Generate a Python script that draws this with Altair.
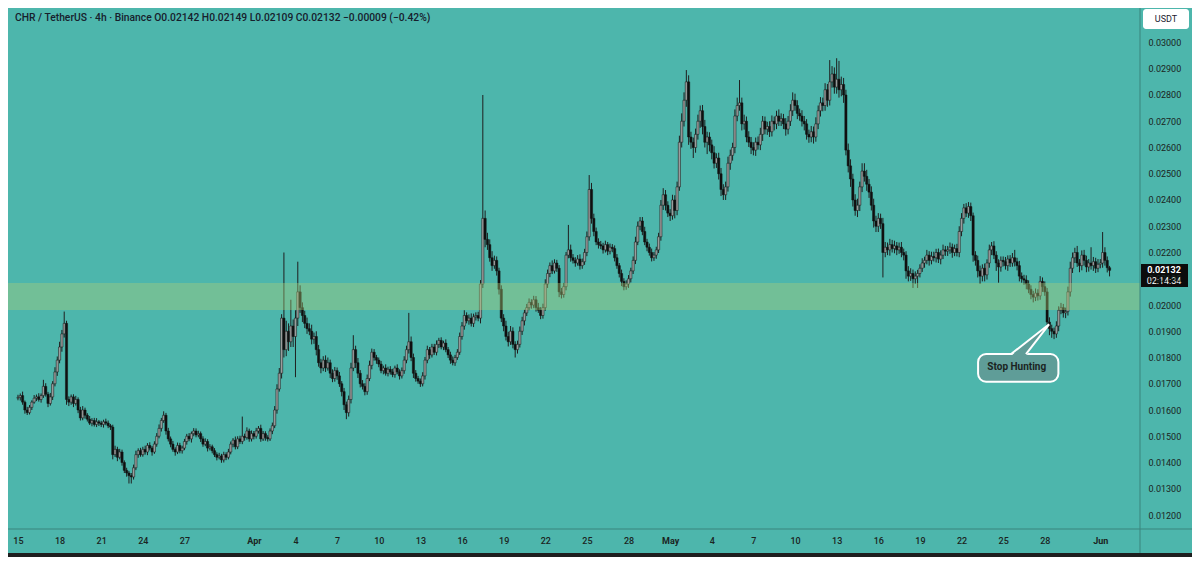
import altair as alt
import pandas as pd
from datetime import datetime, timedelta, timezone

# ---------------- data (prices in units of 0.00001 USDT, 4h candles from 2023-03-15 00:00 UTC) ----------------
first_open = 1645
closes = [
    1648, 1655, 1630, 1600, 1590, 1610,  # Mar 15
    1630, 1645, 1650, 1640, 1655, 1690,  # 16
    1660, 1625, 1650, 1700, 1745, 1790,  # 17
    1840, 1890, 1930, 1640, 1630, 1650,  # 18
    1625, 1640, 1600, 1570, 1600, 1580,  # 19
    1565, 1550, 1560, 1545, 1555, 1550,  # 20
    1545, 1555, 1550, 1540, 1535, 1430,  # 21
    1450, 1420, 1440, 1400, 1370, 1360,  # 22
    1350, 1345, 1380, 1430, 1445, 1430,  # 23
    1450, 1440, 1465, 1455, 1440, 1470,  # 24
    1500, 1530, 1560, 1580, 1520, 1490,  # 25
    1470, 1450, 1440, 1465, 1445, 1455,  # 26
    1480, 1500, 1490, 1510, 1520, 1505,  # 27
    1510, 1490, 1470, 1480, 1455, 1460,  # 28
    1445, 1430, 1420, 1425, 1410, 1430,  # 29
    1420, 1440, 1470, 1485, 1460, 1490,  # 30
    1480, 1500, 1495, 1520, 1490, 1510,  # 31
    1500, 1520, 1530, 1490, 1510, 1495,  # Apr 1
    1490, 1520, 1540, 1600, 1680, 1740,  # 2
    1950, 1830, 1900, 1860, 1920, 1880,  # 3
    1950, 2050, 1990, 1960, 1930, 1910,  # 4
    1900, 1870, 1880, 1830, 1780, 1760,  # 5
    1790, 1760, 1780, 1740, 1720, 1750,  # 6
    1730, 1700, 1670, 1620, 1590, 1640,  # 7
    1760, 1830, 1780, 1740, 1700, 1690,  # 8
    1670, 1720, 1770, 1820, 1800, 1790,  # 9
    1775, 1750, 1760, 1740, 1755, 1745,  # 10
    1735, 1760, 1745, 1730, 1750, 1790,  # 11
    1830, 1860, 1800, 1740, 1720, 1710,  # 12
    1700, 1730, 1790, 1830, 1810, 1840,  # 13
    1820, 1850, 1865, 1840, 1855, 1830,  # 14
    1810, 1790, 1780, 1800, 1820, 1880,  # 15
    1920, 1960, 1940, 1950, 1930, 1955,  # 16
    1960, 1950, 2080, 2330, 2250, 2230,  # 17
    2180, 2150, 2170, 2130, 2060, 1950,  # 18
    1920, 1880, 1860, 1900, 1850, 1830,  # 19
    1850, 1900, 1940, 1970, 1990, 2010,  # 20
    2000, 2020, 1990, 1980, 1960, 1990,  # 21
    2080, 2120, 2150, 2130, 2160, 2140,  # 22
    2050, 2040, 2070, 2190, 2210, 2180,  # 23
    2170, 2160, 2175, 2150, 2165, 2200,  # 24
    2260, 2440, 2330, 2280, 2240, 2230,  # 25
    2225, 2210, 2230, 2205, 2220, 2215,  # 26
    2180, 2150, 2120, 2090, 2070, 2080,  # 27
    2100, 2130, 2170, 2240, 2300, 2320,  # 28
    2280, 2240, 2220, 2200, 2180, 2190,  # 29
    2210, 2260, 2380, 2420, 2380, 2350,  # 30
    2340, 2400, 2360, 2450, 2620, 2700,  # May 1
    2780, 2850, 2640, 2620, 2600, 2650,  # 2
    2700, 2740, 2680, 2620, 2640, 2610,  # 3
    2580, 2540, 2560, 2500, 2440, 2420,  # 4
    2450, 2540, 2570, 2600, 2720, 2760,  # 5
    2770, 2690, 2700, 2640, 2620, 2600,  # 6
    2590, 2620, 2610, 2650, 2700, 2670,  # 7
    2680, 2660, 2700, 2690, 2720, 2700,  # 8
    2710, 2690, 2670, 2700, 2740, 2780,  # 9
    2760, 2730, 2720, 2700, 2690, 2650,  # 10
    2640, 2660, 2640, 2690, 2740, 2770,  # 11
    2760, 2820, 2780, 2850, 2880, 2830,  # 12
    2860, 2820, 2840, 2800, 2590, 2530,  # 13
    2480, 2400, 2360, 2380, 2450, 2510,  # 14
    2490, 2460, 2430, 2380, 2320, 2300,  # 15
    2330, 2310, 2200, 2220, 2210, 2230,  # 16
    2215, 2225, 2210, 2220, 2200, 2190,  # 17
    2130, 2110, 2120, 2100, 2110, 2120,  # 18
    2140, 2160, 2170, 2190, 2170, 2185,  # 19
    2180, 2200, 2175, 2190, 2210, 2205,  # 20
    2210, 2220, 2200, 2215, 2200, 2280,  # 21
    2330, 2370, 2350, 2375, 2340, 2190,  # 22
    2170, 2130, 2110, 2140, 2115, 2160,  # 23
    2210, 2225, 2190, 2160, 2145, 2170,  # 24
    2165, 2150, 2175, 2160, 2180, 2165,  # 25
    2150, 2110, 2100, 2095, 2080, 2060,  # 26
    2040, 2030, 2045, 2035, 2090, 2070,  # 27
    2050, 1935, 1910, 1900, 1890, 1920,  # 28
    1980, 1990, 1970, 1975, 2050, 2140,  # 29
    2180, 2200, 2160, 2150, 2190, 2170,  # 30
    2145, 2160, 2150, 2165, 2140, 2155,  # 31
    2160, 2200, 2170, 2142, 2132,        # Jun 1
]
upper_wicks = [
    10, 8, 15, 6, 12, 9,
    7, 12, 9, 14, 8, 25,
    12, 9, 15, 10, 18, 14,
    20, 15, 45, 10, 12, 9,
    10, 14, 8, 12, 15, 9,
    8, 12, 9, 10, 14, 7,
    9, 8, 12, 10, 7, 9,
    14, 10, 12, 9, 8, 10,
    8, 10, 12, 15, 9, 11,
    10, 14, 9, 12, 8, 11,
    12, 15, 10, 15, 9, 12,
    9, 12, 8, 11, 10, 9,
    10, 9, 12, 8, 11, 10,
    11, 8, 10, 12, 9, 10,
    8, 10, 9, 12, 8, 11,
    9, 12, 10, 8, 14, 10,
    12, 75, 10, 14, 9, 12,
    10, 12, 9, 14, 10, 9,
    9, 10, 12, 15, 18, 20,
    15, 250, 40, 30, 100, 25,
    30, 115, 25, 20, 18, 22,
    20, 25, 15, 20, 18, 15,
    15, 18, 20, 12, 15, 14,
    12, 15, 10, 14, 12, 15,
    20, 55, 15, 18, 12, 14,
    12, 15, 18, 14, 12, 10,
    10, 12, 9, 14, 10, 12,
    12, 9, 14, 10, 12, 15,
    15, 110, 20, 15, 12, 10,
    10, 14, 12, 15, 10, 12,
    12, 15, 10, 12, 9, 14,
    10, 12, 14, 10, 12, 15,
    15, 20, 12, 14, 18, 12,
    12, 14, 15, 470, 30, 25,
    20, 25, 18, 15, 12, 15,
    15, 20, 18, 20, 15, 12,
    14, 18, 15, 12, 14, 15,
    12, 15, 14, 18, 12, 15,
    18, 15, 12, 20, 14, 12,
    12, 15, 14, 12, 95, 20,
    14, 12, 15, 18, 12, 14,
    20, 55, 25, 18, 15, 14,
    14, 12, 15, 10, 14, 12,
    12, 14, 10, 15, 12, 14,
    14, 12, 15, 20, 18, 15,
    15, 18, 12, 14, 15, 12,
    12, 15, 20, 25, 18, 15,
    15, 20, 18, 20, 25, 30,
    30, 45, 25, 20, 18, 22,
    25, 20, 22, 25, 20, 18,
    20, 25, 18, 20, 22, 20,
    20, 25, 22, 18, 25, 30,
    87, 20, 25, 18, 22, 20,
    20, 18, 22, 25, 20, 18,
    18, 20, 22, 18, 20, 25,
    20, 18, 22, 20, 25, 30,
    25, 20, 18, 22, 20, 18,
    18, 22, 20, 25, 20, 22,
    20, 25, 22, 83, 30, 25,
    80, 70, 30, 25, 20, 25,
    25, 20, 22, 25, 20, 30,
    30, 25, 20, 22, 25, 20,
    20, 18, 22, 20, 18, 22,
    18, 20, 15, 18, 20, 15,
    15, 18, 20, 15, 18, 14,
    15, 18, 14, 20, 15, 18,
    18, 14, 15, 18, 20, 15,
    15, 18, 14, 15, 18, 20,
    20, 15, 18, 17, 15, 12,
    15, 18, 20, 15, 18, 14,
    20, 15, 18, 15, 14, 15,
    15, 18, 14, 15, 18, 30,
    15, 18, 14, 15, 18, 14,
    15, 14, 18, 15, 20, 15,
    20, 15, 18, 15, 14, 18,
    15, 18, 14, 15, 20, 25,
    20, 18, 25, 15, 18, 20,
    18, 15, 60, 18, 15, 20,
    15, 78, 20, 15, 7,
]
lower_wicks = [
    8, 12, 10, 14, 9, 7,
    10, 6, 11, 8, 12, 9,
    9, 14, 8, 12, 10, 15,
    12, 18, 14, 20, 15, 10,
    14, 8, 12, 10, 9, 13,
    9, 7, 12, 8, 10, 11,
    10, 12, 8, 9, 11, 18,
    9, 15, 8, 12, 10, 14,
    30, 25, 10, 9, 12, 8,
    8, 10, 12, 9, 14, 7,
    10, 8, 12, 9, 14, 10,
    12, 9, 14, 8, 10, 11,
    8, 12, 9, 14, 10, 9,
    9, 12, 10, 8, 13, 9,
    10, 9, 12, 8, 11, 10,
    11, 8, 9, 12, 10, 9,
    9, 10, 12, 8, 11, 10,
    12, 9, 10, 11, 8, 12,
    10, 8, 12, 9, 14, 10,
    20, 30, 25, 35, 20, 40,
    155, 30, 20, 25, 18, 20,
    15, 20, 18, 22, 15, 20,
    12, 15, 10, 18, 14, 12,
    15, 12, 18, 20, 25, 15,
    15, 12, 20, 18, 14, 12,
    14, 12, 10, 15, 12, 14,
    12, 10, 14, 9, 12, 10,
    10, 12, 9, 14, 10, 12,
    12, 15, 14, 18, 12, 10,
    12, 10, 14, 12, 15, 10,
    10, 12, 14, 9, 12, 10,
    12, 14, 10, 12, 9, 10,
    12, 14, 10, 15, 12, 14,
    14, 12, 20, 15, 30, 20,
    15, 20, 12, 18, 20, 15,
    20, 15, 18, 12, 15, 30,
    15, 12, 14, 18, 12, 10,
    14, 12, 15, 10, 14, 12,
    12, 15, 14, 12, 10, 14,
    20, 15, 12, 14, 12, 15,
    12, 14, 10, 15, 12, 12,
    14, 15, 20, 18, 12, 15,
    12, 14, 10, 15, 12, 14,
    14, 12, 15, 18, 14, 12,
    15, 14, 12, 14, 12, 15,
    14, 12, 15, 12, 14, 12,
    14, 12, 15, 18, 20, 15,
    20, 15, 30, 18, 15, 20,
    20, 25, 30, 25, 40, 20,
    20, 25, 30, 20, 45, 25,
    25, 20, 18, 22, 25, 20,
    20, 18, 25, 20, 22, 20,
    20, 25, 22, 20, 18, 25,
    20, 22, 18, 20, 25, 20,
    22, 20, 18, 25, 20, 18,
    18, 20, 25, 20, 18, 20,
    20, 22, 18, 20, 25, 20,
    22, 20, 25, 18, 20, 22,
    22, 20, 25, 20, 22, 25,
    25, 30, 25, 30, 20, 25,
    30, 25, 20, 25, 22, 20,
    20, 25, 22, 20, 25, 22,
    22, 20, 95, 18, 20, 22,
    15, 18, 20, 15, 18, 20,
    30, 20, 18, 35, 20, 45,
    15, 14, 18, 15, 20, 15,
    14, 18, 15, 20, 15, 18,
    18, 15, 20, 14, 15, 18,
    18, 20, 15, 18, 20, 25,
    20, 25, 30, 20, 25, 18,
    18, 20, 15, 30, 60, 18,
    18, 15, 20, 15, 14, 18,
    18, 20, 15, 18, 20, 15,
    18, 20, 15, 18, 15, 20,
    15, 20, 25, 25, 20, 15,
    20, 15, 18, 20, 15, 18,
    18, 20, 15, 25, 18, 20,
    20, 18, 15, 20, 18, 15,
    15, 18, 20, 18, 23,
]
tick_dates = [
    "2023-03-15", "2023-03-18", "2023-03-21", "2023-03-24", "2023-03-27",
    "2023-04-01", "2023-04-04", "2023-04-07", "2023-04-10", "2023-04-13",
    "2023-04-16", "2023-04-19", "2023-04-22", "2023-04-25", "2023-04-28",
    "2023-05-01", "2023-05-04", "2023-05-07", "2023-05-10", "2023-05-13",
    "2023-05-16", "2023-05-19", "2023-05-22", "2023-05-25", "2023-05-28",
    "2023-06-01",
]
price_ticks = [0.012, 0.013, 0.014, 0.015, 0.016, 0.017, 0.018, 0.019, 0.020, 0.021,
               0.022, 0.023, 0.024, 0.025, 0.026, 0.027, 0.028, 0.029, 0.030]
zone_low, zone_high = 0.01981, 0.02084
header_text = "CHR / TetherUS · 4h · Binance   O0.02142   H0.02149   L0.02109   C0.02132   −0.00009 (−0.42%)"
last_close_label = "0.02132"
countdown_label = "02:14:34"
callout_label = "Stop Hunting"
callout_box_times = ["2023-05-23T04:36", "2023-05-28T23:30"]
callout_box_prices = [0.018133, 0.017078]
callout_text_time, callout_text_price = "2023-05-25T23:30", 0.01765
pointer_times = ["2023-05-25T13:40", "2023-05-28T07:26", "2023-05-26T15:26"]
pointer_prices = [0.018133, 0.019265, 0.018133]
pointer_tops = [0.018057, 0.018575, 0.019265]  # area top edge at each x (sorted by time)

# ---------------- styling ----------------
TEAL = "#4db6ac"
FRAME = "#1e1e1e"
SEP = "#3a847d"
UP = "#9c9c9c"
DOWN = "#101010"
WICK = "#1f1f1f"
TXT = "#1b2422"
FONT = "Roboto"
PLOT_W, PLOT_H = 1132, 521
PX_PER_DAY = 14.0

UTC = timezone.utc


def ms(dt):
    return int(dt.timestamp() * 1000)


def iso_ms(s):
    return ms(datetime.fromisoformat(s).replace(tzinfo=UTC))


start = datetime(2023, 3, 15, tzinfo=UTC)
apr1 = datetime(2023, 4, 1, tzinfo=UTC)

rows = []
prev = first_open
n = min(len(closes), len(upper_wicks), len(lower_wicks))
for i in range(n):
    o, c = prev, closes[i]
    rows.append({
        "t": ms(start + timedelta(hours=4 * i)),
        "o": o / 1e5, "c": c / 1e5,
        "h": (max(o, c) + upper_wicks[i]) / 1e5,
        "l": (min(o, c) - lower_wicks[i]) / 1e5,
        "dir": "up" if c >= o else "down",
    })
    prev = c
df = pd.DataFrame(rows)
last_close = closes[n - 1] / 1e5

x_domain = [ms(apr1 - timedelta(days=243 / PX_PER_DAY)),
            ms(apr1 + timedelta(days=(PLOT_W - 243) / PX_PER_DAY))]
xs = alt.Scale(type="utc", domain=x_domain)
ys = alt.Scale(domain=[0.011467, 0.031314], nice=False, zero=False)

x_axis = alt.Axis(
    values=[iso_ms(d) for d in tick_dates],
    labelExpr="utcdate(datum.value) == 1 ? utcFormat(datum.value, '%b') : utcFormat(datum.value, '%-d')",
    labelFontWeight={"condition": {"test": "utcdate(datum.value) == 1", "value": "bold"}, "value": 500},
    labelFont=FONT, labelFontSize=9, labelColor=TXT, labelPadding=7,
    labelOverlap=False, labelFlush=False, ticks=False, domain=False, grid=False, title=None,
    zindex=5,
)
y_axis = alt.Axis(
    orient="right", values=price_ticks, format=".5f",
    labelFont=FONT, labelFontSize=9, labelColor=TXT, labelPadding=8,
    ticks=False, domain=False, grid=False, title=None, zindex=5,
)


def X(field):
    return alt.X(field, scale=xs, axis=x_axis)


def Y(field):
    return alt.Y(field, scale=ys, axis=y_axis)


def YD(value):
    return alt.YDatum(value, scale=ys, axis=y_axis)


one = pd.DataFrame({"a": [0]})

frame = alt.Chart(one).mark_rect(color=TEAL).encode(
    x=alt.value(0), x2=alt.value(PLOT_W + 52), y=alt.value(0), y2=alt.value(545))

wicks = alt.Chart(df).mark_rule(color=WICK, strokeWidth=1).encode(
    x=X("t:T"), y=Y("l:Q"), y2="h:Q")
bodies = alt.Chart(df).mark_bar(size=2.2, stroke="#121212", strokeWidth=0.5).encode(
    x=X("t:T"), y=Y("o:Q"), y2="c:Q",
    fill=alt.Fill("dir:N", scale=alt.Scale(domain=["up", "down"], range=[UP, DOWN]), legend=None),
)
zone = alt.Chart(one).mark_rect(color="#aacd78", opacity=0.4).encode(
    x=alt.value(0), x2=alt.value(PLOT_W),
    y=YD(zone_high), y2=alt.Y2Datum(zone_low),
)
vsep = alt.Chart(one).mark_rule(color=SEP, strokeWidth=1).encode(
    x=alt.value(PLOT_W), y=alt.value(0), y2=alt.value(545))
hsep = alt.Chart(one).mark_rule(color=SEP, strokeWidth=1).encode(
    y=alt.value(PLOT_H), x=alt.value(0), x2=alt.value(PLOT_W + 52))

# callout
box_df = pd.DataFrame({"t1": [iso_ms(callout_box_times[0])], "t2": [iso_ms(callout_box_times[1])],
                       "p1": [callout_box_prices[0]], "p2": [callout_box_prices[1]]})
cbox = alt.Chart(box_df).mark_rect(fill="#5f9d98", stroke="white", strokeWidth=2, cornerRadius=8).encode(
    x=X("t1:T"), x2="t2:T", y=Y("p1:Q"), y2="p2:Q")
ptr_sorted = sorted(zip(pointer_times, pointer_prices), key=lambda z: z[0])
area_df = pd.DataFrame({
    "t": [iso_ms(t) for t, _ in ptr_sorted],
    "top": pointer_tops,
    "base": [pointer_tops[0], callout_box_prices[0] - 0.00008, pointer_tops[2]],
})
parea = alt.Chart(area_df).mark_area(color="#5f9d98", interpolate="linear").encode(
    x=X("t:T"), y=Y("top:Q"), y2="base:Q")
pline_df = pd.DataFrame({"t": [iso_ms(t) for t in pointer_times], "p": pointer_prices, "k": [0, 1, 2]})
pline = alt.Chart(pline_df).mark_line(color="white", strokeWidth=2).encode(
    x=X("t:T"), y=Y("p:Q"), order="k:Q")
ctext_df = pd.DataFrame({"t": [iso_ms(callout_text_time)], "p": [callout_text_price], "s": [callout_label]})
ctext = alt.Chart(ctext_df).mark_text(font=FONT, fontSize=10, fontWeight="bold", color=TXT).encode(
    x=X("t:T"), y=Y("p:Q"), text="s:N")

# header, currency box, last price box
header = alt.Chart(one).mark_text(align="left", baseline="middle", font=FONT, fontSize=10.3,
                                   fontWeight=500, color="#17202c").encode(
    x=alt.value(7), y=alt.value(10), text=alt.value(header_text))
usdt_box = alt.Chart(one).mark_rect(fill="white", cornerRadius=3).encode(
    x=alt.value(PLOT_W + 3), x2=alt.value(PLOT_W + 49), y=alt.value(1), y2=alt.value(21))
usdt_txt = alt.Chart(one).mark_text(font=FONT, fontSize=9, color="#1b2230").encode(
    x=alt.value(PLOT_W + 26), y=alt.value(11), text=alt.value("USDT"))
price_box = alt.Chart(one).mark_rect(fill="#0c0c0c").encode(
    x=alt.value(PLOT_W + 1), x2=alt.value(PLOT_W + 48),
    y=YD(last_close + 0.00024), y2=alt.Y2Datum(last_close - 0.00063))
price_txt = alt.Chart(one).mark_text(font=FONT, fontSize=9, fontWeight="bold", color="white").encode(
    x=alt.value(PLOT_W + 24), y=YD(last_close), text=alt.value(last_close_label))
count_txt = alt.Chart(one).mark_text(font=FONT, fontSize=9, color="white", dy=11).encode(
    x=alt.value(PLOT_W + 24), y=YD(last_close), text=alt.value(countdown_label))

chart = alt.layer(
    frame, wicks, bodies, zone, vsep, hsep,
    cbox, parea, pline, ctext,
    header, usdt_box, usdt_txt, price_box, price_txt, count_txt,
).properties(
    width=PLOT_W, height=PLOT_H, background=FRAME,
    padding={"left": 0, "top": 0, "right": 52, "bottom": 28},
    autosize=alt.AutoSizeParams(type="none"),
).configure_view(fill=TEAL, stroke=None)

chart.save("out.html", embed_options={"renderer": "svg", "actions": False})
